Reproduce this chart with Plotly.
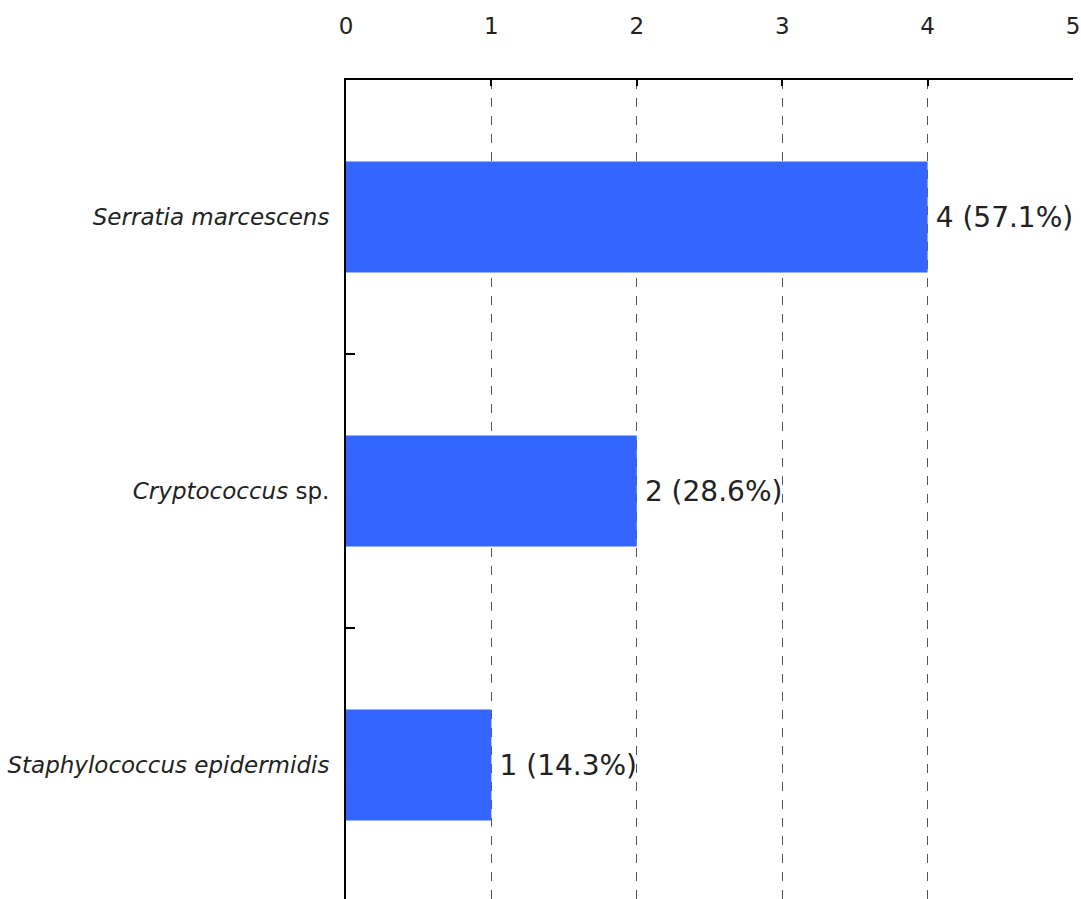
import plotly.graph_objects as go

categories = ["<i>Serratia marcescens</i>", "<i>Cryptococcus</i> sp.", "<i>Staphylococcus epidermidis</i>"]
counts = [4, 2, 1]
percents = [57.1, 28.6, 14.3]
x_ticks = [0, 1, 2, 3, 4, 5]

labels = [f"<span style='font-size:16px'> </span>{c} ({p}%)" for c, p in zip(counts, percents)]

fig = go.Figure()
fig.add_trace(go.Bar(
    y=categories, x=counts, orientation="h",
    marker=dict(color="#3366ff", line=dict(width=0)),
    width=0.405,
    text=labels, textposition="outside", cliponaxis=False, constraintext="none",
    textfont=dict(family="DejaVu Sans", size=28, color="#222222"),
    hoverinfo="skip",
))

fig.update_layout(
    width=1081, height=899,
    margin=dict(l=346, r=8, t=80, b=0, autoexpand=False),
    paper_bgcolor="white", plot_bgcolor="white",
    showlegend=False,
    font=dict(family="DejaVu Sans", color="#222222"),
    xaxis=dict(
        side="top", range=[0, 5], tickvals=x_ticks, ticktext=[str(v) for v in x_ticks],
        showgrid=True, gridcolor="#555555", gridwidth=1, griddash="dash",
        showline=True, linecolor="black", linewidth=2,
        ticks="inside", ticklen=6, tickwidth=2, tickcolor="black",
        ticklabelstandoff=35, tickfont=dict(size=23, color="#222222"),
        zeroline=False, fixedrange=True, automargin=False,
    ),
    yaxis=dict(
        type="category", categoryorder="array", categoryarray=categories,
        range=[2.489, -0.5],
        showline=True, linecolor="black", linewidth=2,
        ticks="inside", ticklen=9, tickwidth=2, tickcolor="black",
        tickson="boundaries", showgrid=False, zeroline=False,
        ticklabelstandoff=10, tickfont=dict(size=23, color="#222222"),
        fixedrange=True, automargin=False,
    ),
)

fig.write_html(
    "out.html",
    config={"displayModeBar": False, "staticPlot": True},
    post_script="document.body.style.margin='0';document.body.style.overflow='hidden';",
)
